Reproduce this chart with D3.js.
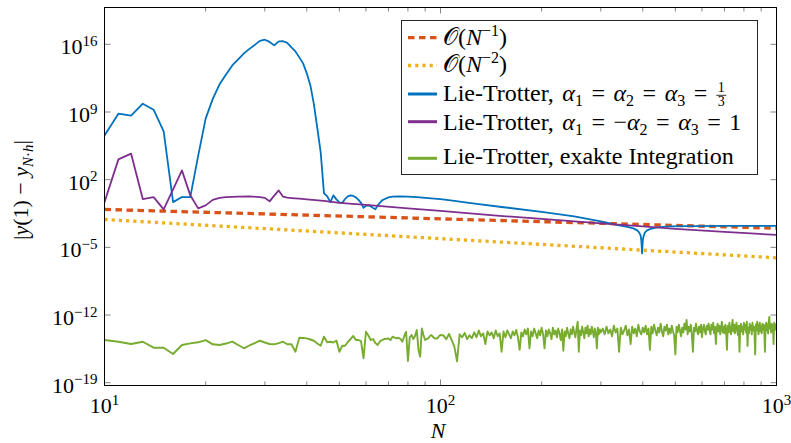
<!DOCTYPE html>
<html>
<head>
<meta charset="utf-8">
<script src="https://cdn.jsdelivr.net/npm/d3@7"></script>
<style>
  body { margin: 0; background: #fff; font-family: "Liberation Serif", "Times New Roman", "DejaVu Serif", serif; }
  svg { display: block; }
  svg text { font-family: "Liberation Serif", "Times New Roman", "DejaVu Serif", serif; }
</style>
</head>
<body>
<script>
// Referenzgeraden
const refN = [10, 1000]
const orderOne = [8.3e-2, 9.5e-4]
const orderTwo = [7.6e-3, 8.3e-7]

// Lie-Trotter, alpha = 1/3  (Exponenten log10 des Fehlers)
const blueN = [10, 11, 12, 13, 14, 15, 16, 17, 18, 19,
    20, 21, 22, 23, 24, 25, 26, 27, 28, 29,
    30, 31, 32, 33, 34, 35, 36, 37, 38, 39,
    40, 41, 42, 43, 44, 45, 46, 47, 48, 49,
    50, 51, 52, 53, 54, 55, 56, 57, 58, 59,
    60, 61, 62, 63, 64, 65, 66, 67, 68,
    70, 72, 75, 80, 85, 90, 100, 110, 120, 130,
    150, 200, 250, 300, 340, 360, 375, 385, 390, 394,
    396, 397, 398, 399, 400, 402, 406, 412, 420, 440,
    480, 550, 700, 1000]
const blueExp = [6.58, 8.83, 8.62, 9.86, 9.24, 7.0, -0.32, 0.2, 0.2, 4.47,
    8.31, 10.36, 11.86, 12.89, 13.82, 14.44, 15.06, 15.53, 15.94, 16.36,
    16.48, 16.25, 15.89, 16.3, 16.32, 16.15, 15.68, 15.27, 14.65, 14.03,
    13.0, 11.75, 9.79, 7.3, 4.82, 0.58, 0.29, -0.32, 0.38, -0.04,
    -0.35, -0.4, 0.01, 0.27, 0.38, 0.32, 0.17, -0.09, -0.4, -0.92,
    -0.71, -0.66, -0.76, -0.92, -1.07, -0.66, -0.4, -0.14, -0.02,
    0.17, 0.24, 0.27, 0.25, 0.2, 0.12, -0.02, -0.2, -0.37, -0.52,
    -0.8, -1.33, -1.8, -2.31, -2.73, -2.88, -3.04, -3.24, -3.45, -3.76,
    -4.28, -4.9, -5.62, -4.9, -4.28, -3.86, -3.45, -3.24, -3.11, -2.93,
    -2.83, -2.8, -2.78, -2.78]

// Lie-Trotter, alpha1 = -alpha2 = alpha3 = 1
const purpleN = [10, 11, 12, 13, 14, 15, 16, 17, 18, 19,
    20, 21, 22, 23, 25, 27, 29, 30, 31, 32,
    33, 34, 35, 36, 38, 40, 45, 50, 60, 80,
    100, 150, 200, 300, 400, 500, 700, 1000]
const purpleExp = [-0.32, 4.1, 4.69, 0.0, 0.2, -1.07, 1.0, 2.96, 0.38, -0.97,
    -0.66, -0.09, 0.12, 0.19, 0.25, 0.27, 0.2, 0.12, -0.24, 0.35,
    0.89, 0.24, 0.14, 0.1, 0.03, -0.04, -0.19, -0.4, -0.61, -0.97,
    -1.23, -1.74, -2.05, -2.52, -2.83, -3.09, -3.4, -3.71]

// Lie-Trotter, exakte Integration
const greenN = [...d3.range(10, 101), ...d3.range(102, 301, 2), ...d3.range(304, 1001, 4)]
const greenExp = [
    -14.59, -14.76, -15.0, -14.76, -15.38, -15.38, -16.03, -15.1, -14.93, -14.82,
    -14.59, -15.03, -15.1, -14.95, -14.76, -15.1, -15.44, -15.15, -14.9, -14.66,
    -14.84, -15.0, -15.03, -14.9, -14.76, -15.03, -15.03, -15.8, -14.35, -14.38,
    -14.41, -14.53, -14.66, -14.95, -15.18, -14.24, -14.82, -14.76, -14.84, -14.64,
    -15.8, -15.18, -15.18, -14.79, -14.48, -14.17, -14.59, -14.59, -14.69, -16.48,
    -13.73, -14.12, -14.59, -14.48, -14.9, -15.1, -14.74, -14.59, -14.48, -14.45,
    -14.43, -14.59, -14.24, -14.33, -14.41, -14.35, -14.48, -14.76, -14.17, -13.73,
    -16.76, -14.28, -14.07, -14.48, -14.17, -13.55, -15.62, -16.31, -13.38, -14.07,
    -14.59, -14.48, -14.41, -14.17, -14.07, -14.28, -14.41, -14.43, -14.41, -14.17,
    -14.07,
    // 102 .. 300
    -14.1, -14.5, -13.95, -14.6, -15.3, -16.8, -14.0, -14.3, -13.85, -14.5, -14.1, -14.4,
    -13.8, -14.3, -13.6, -14.2, -13.9, -15.0, -13.7, -14.1, -13.8, -14.4, -13.6, -14.2, -13.9,
    -15.8, -13.7, -14.3, -13.6, -14.0, -14.4, -13.7, -14.1, -13.55, -14.3, -15.6, -13.8,
    -14.2, -13.5, -14.0, -13.4, -15.45, -13.7, -14.2, -13.4, -13.9, -14.4, -13.6, -14.1, -13.3,
    -14.0, -15.45, -13.6, -14.2, -13.5, -13.9, -14.5, -13.3, -14.0, -13.6, -14.3, -13.4, -13.9,
    -14.6, -13.5, -15.7, -13.7, -14.2, -13.3, -13.9, -14.4, -13.5, -14.0, -13.2,
    -13.8, -14.3, -13.4, -12.7, -15.8, -13.6, -14.1, -13.2, -13.8, -14.4, -13.3, -13.9, -13.1,
    -14.2, -13.5, -14.0, -13.2, -13.7, -14.3, -13.4, -13.9, -15.45, -13.3, -14.0, -13.5, -13.8,
    // 304 .. 1000
    -13.4, -14.0, -13.2, -13.9, -13.5, -14.2, -13.1, -13.8, -13.4, -15.8,
    -13.3, -14.0, -13.6, -13.1, -14.1, -13.5, -15.0, -13.2, -13.9, -13.4,
    -14.2, -13.0, -13.7, -14.0, -13.3,
    -13.8, -13.1, -14.0, -13.4, -15.6, -13.2, -13.9, -13.0, -13.6, -14.1,
    -13.3, -13.8, -12.9, -13.7, -14.2, -13.2, -13.6, -13.0, -14.0, -13.4,
    -13.9, -13.1, -13.7, -14.1, -16.07, -13.2, -13.8, -13.0, -13.6, -14.2,
    -13.3, -13.8, -12.9, -13.5, -12.5, -14.0, -13.2, -13.7, -13.0, -14.1,
    -15.8, -13.3, -13.7, -12.9, -13.6, -14.0, -13.2, -13.8, -13.0, -14.3,
    -13.4, -13.0, -13.7, -14.0, -13.1, -13.5, -12.9,
    -13.6, -14.0, -13.0, -13.5, -12.8, -13.9, -13.2, -15.0, -13.4, -12.9,
    -13.7, -13.1, -14.0, -13.3, -12.7, -13.8, -13.2, -13.9, -13.0, -13.6,
    -15.6, -13.1, -13.8, -12.8, -13.5, -14.0, -13.2, -12.5, -13.7, -13.0,
    -13.9, -13.3, -12.8, -13.6, -14.1, -13.1, -15.8, -13.4, -12.9, -13.7,
    -13.2, -14.0, -12.8, -13.5, -13.0, -13.8, -12.7, -15.2, -13.3, -13.9,
    -12.9, -13.5, -13.1, -14.0, -12.8, -13.6, -13.2, -13.8, -16.07, -13.0,
    -13.6, -12.7, -13.4, -14.0, -13.1, -12.8, -13.7, -13.2, -13.9, -12.9,
    -13.5, -13.0, -13.8, -15.8, -13.2, -12.8, -13.6, -13.0, -13.9, -12.7,
    -12.2, -13.4, -13.0, -13.8, -12.9, -13.5, -13.1, -15.0, -12.8, -13.6,
    -13.0, -13.4, -12.9]

// Achsen
const xTicks = [10, 100, 1000]
const xTickExp = ['1', '2', '3']
const xMinor = [20, 30, 40, 50, 60, 70, 80, 90, 200, 300, 400, 500, 600, 700, 800, 900]
const yTicks = [1e-19, 1e-12, 1e-5, 1e2, 1e9, 1e16]
const yTickExp = ['−19', '−12', '−5', '2', '9', '16']

const width = 791, height = 443
const pLeft = 104.5, pRight = 776.5, pTop = 7.5, pBottom = 385.5
const serif = '"Liberation Serif", "Times New Roman", "DejaVu Serif", serif'

const svg = d3.select('body')
    .append('svg')
    .attr('width', width)
    .attr('height', height)
    .attr('font-family', serif)

const x = d3.scaleLog().domain([10, 1000]).range([pLeft, pRight])
const y = d3.scaleLog().domain([Math.pow(10, -19.29), Math.pow(10, 19.81)]).range([pBottom, pTop])

const pow = e => Math.pow(10, e)

svg.append('clipPath').attr('id', 'plotclip')
    .append('rect')
    .attr('x', pLeft).attr('y', pTop)
    .attr('width', pRight - pLeft).attr('height', pBottom - pTop)

// Ticks
function styleAxis(g) {
    g.attr('font-family', serif).attr('font-size', 22)
    g.select('.domain').remove()
    g.selectAll('.tick line').attr('stroke', '#666').attr('stroke-width', 0.8)
}

let gxMinor = svg.append('g').attr('transform', `translate(0,${pBottom})`)
    .call(d3.axisBottom(x).tickValues(xMinor).tickSizeInner(-4).tickSizeOuter(0).tickFormat('').offset(0))
styleAxis(gxMinor)
let gxMinorTop = svg.append('g').attr('transform', `translate(0,${pTop})`)
    .call(d3.axisTop(x).tickValues(xMinor).tickSizeInner(-4).tickSizeOuter(0).tickFormat('').offset(0))
styleAxis(gxMinorTop)

let gx = svg.append('g').attr('transform', `translate(0,${pBottom})`)
    .call(d3.axisBottom(x).tickValues(xTicks).tickSizeInner(-6).tickSizeOuter(0).tickFormat('').offset(0))
styleAxis(gx)
gx.selectAll('.tick text').each(function(d, i) {
    let t = d3.select(this).attr('y', 27).attr('dy', null).attr('text-anchor', 'middle')
    t.append('tspan').text('10')
    t.append('tspan').attr('dy', -8).attr('font-size', 15).text(xTickExp[i])
})
let gxTop = svg.append('g').attr('transform', `translate(0,${pTop})`)
    .call(d3.axisTop(x).tickValues(xTicks).tickSizeInner(-6).tickSizeOuter(0).tickFormat('').offset(0))
styleAxis(gxTop)

let gy = svg.append('g').attr('transform', `translate(${pLeft},0)`)
    .call(d3.axisLeft(y).tickValues(yTicks).tickSizeInner(-6).tickSizeOuter(0).tickFormat('').offset(0))
styleAxis(gy)
gy.selectAll('.tick text').each(function(d, i) {
    let t = d3.select(this).attr('x', -7).attr('y', 10).attr('dy', null).attr('text-anchor', 'end')
    t.append('tspan').text('10')
    t.append('tspan').attr('dy', -8.5).attr('font-size', 15).text(yTickExp[i])
})
let gyRight = svg.append('g').attr('transform', `translate(${pRight},0)`)
    .call(d3.axisRight(y).tickValues(yTicks).tickSizeInner(-6).tickSizeOuter(0).tickFormat('').offset(0))
styleAxis(gyRight)

// Kurven
const line = d3.line().x(d => x(d[0])).y(d => y(d[1]))
const plot = svg.append('g').attr('clip-path', 'url(#plotclip)').attr('fill', 'none')

plot.append('path')
    .attr('d', line(d3.zip(refN, orderOne)))
    .attr('stroke', '#D95319').attr('stroke-width', 3.3)
    .attr('stroke-dasharray', '6.5,4.5')
plot.append('path')
    .attr('d', line(d3.zip(refN, orderTwo)))
    .attr('stroke', '#EDB120').attr('stroke-width', 3.3)
    .attr('stroke-dasharray', '3.2,4')
plot.append('path')
    .attr('d', line(d3.zip(blueN, blueExp.map(pow))))
    .attr('stroke', '#0072BD').attr('stroke-width', 1.8).attr('stroke-linejoin', 'round')
plot.append('path')
    .attr('d', line(d3.zip(purpleN, purpleExp.map(pow))))
    .attr('stroke', '#7E2F8E').attr('stroke-width', 1.8).attr('stroke-linejoin', 'round')
plot.append('path')
    .attr('d', line(d3.zip(greenN, greenExp.map(pow))))
    .attr('stroke', '#77AC30').attr('stroke-width', 1.9).attr('stroke-linejoin', 'round')

// Rahmen
svg.append('rect')
    .attr('x', pLeft).attr('y', pTop)
    .attr('width', pRight - pLeft).attr('height', pBottom - pTop)
    .attr('fill', 'none').attr('stroke', '#000').attr('stroke-width', 1)

// Achsenbeschriftung
svg.append('text')
    .attr('x', 438).attr('y', 437.5)
    .attr('text-anchor', 'middle').attr('font-size', 22).attr('font-style', 'italic')
    .text('N')

let yl = svg.append('text')
    .attr('transform', 'translate(28,190) rotate(-90)')
    .attr('text-anchor', 'middle').attr('font-size', 22)
yl.append('tspan').text('|')
yl.append('tspan').attr('font-style', 'italic').text('y')
yl.append('tspan').text('(1) − ')
yl.append('tspan').attr('font-style', 'italic').text('y')
yl.append('tspan').attr('dy', 5).attr('font-size', 15).attr('font-style', 'italic').text('N')
yl.append('tspan').attr('font-size', 15).text('·')
yl.append('tspan').attr('font-size', 15).attr('font-style', 'italic').text('h')
yl.append('tspan').attr('dy', -5).text('|')

// Legende
const lg = svg.append('g').attr('font-size', 24)
lg.append('rect')
    .attr('x', 401.5).attr('y', 20.5).attr('width', 356).attr('height', 154)
    .attr('fill', '#fff').attr('stroke', '#262626').attr('stroke-width', 1)

const sx0 = 408, sx1 = 437, tx = 443
lg.append('line').attr('x1', sx0).attr('x2', sx1).attr('y1', 37.7).attr('y2', 37.7)
    .attr('stroke', '#D95319').attr('stroke-width', 3.3).attr('stroke-dasharray', '6.5,4.5')
lg.append('line').attr('x1', sx0).attr('x2', sx1).attr('y1', 65.5).attr('y2', 65.5)
    .attr('stroke', '#EDB120').attr('stroke-width', 3.3).attr('stroke-dasharray', '3.2,4')
lg.append('line').attr('x1', sx0).attr('x2', sx1).attr('y1', 94).attr('y2', 94)
    .attr('stroke', '#0072BD').attr('stroke-width', 3)
lg.append('line').attr('x1', sx0).attr('x2', sx1).attr('y1', 121.7).attr('y2', 121.7)
    .attr('stroke', '#7E2F8E').attr('stroke-width', 3)
lg.append('line').attr('x1', sx0).attr('x2', sx1).attr('y1', 158.3).attr('y2', 158.3)
    .attr('stroke', '#77AC30').attr('stroke-width', 3)

let t1 = lg.append('text').attr('x', tx).attr('y', 44.5)
t1.append('tspan').text('𝒪(')
t1.append('tspan').attr('font-style', 'italic').text('N')
t1.append('tspan').attr('dy', -9).attr('font-size', 16).text('−1')
t1.append('tspan').attr('dy', 9).text(')')

let t2 = lg.append('text').attr('x', tx).attr('y', 72)
t2.append('tspan').text('𝒪(')
t2.append('tspan').attr('font-style', 'italic').text('N')
t2.append('tspan').attr('dy', -9).attr('font-size', 16).text('−2')
t2.append('tspan').attr('dy', 9).text(')')

function alphaRow(yb, signs, last) {
    let t = lg.append('text').attr('x', tx).attr('y', yb).attr('word-spacing', 2.5)
    t.append('tspan').text('Lie-Trotter, ')
    signs.forEach((s, i) => {
        if (i > 0) t.append('tspan').attr('dy', -5).text(' = ' + s)
        t.append('tspan').attr('font-style', 'italic').text('α')
        t.append('tspan').attr('dy', 5).attr('font-size', 16).text(String(i + 1))
    })
    t.append('tspan').attr('dy', -5).text(' =' + (last ? ' ' + last : ''))
    return t
}
let t3 = alphaRow(101, ['', '', ''], null)
let b3 = t3.node().getBBox()
let fx = b3.x + b3.width + 14
let frac = lg.append('text').attr('x', fx).attr('y', 92).attr('font-size', 14).attr('text-anchor', 'middle')
frac.append('tspan').text('1')
frac.append('tspan').attr('x', fx).attr('dy', 13.8).text('3')
lg.append('line').attr('x1', fx - 5).attr('x2', fx + 5).attr('y1', 95.3).attr('y2', 95.3)
    .attr('stroke', '#000').attr('stroke-width', 0.8)

alphaRow(130, ['', '−', ''], '1')

lg.append('text').attr('x', tx).attr('y', 164.3).text('Lie-Trotter, exakte Integration')
</script>
</body>
</html>
